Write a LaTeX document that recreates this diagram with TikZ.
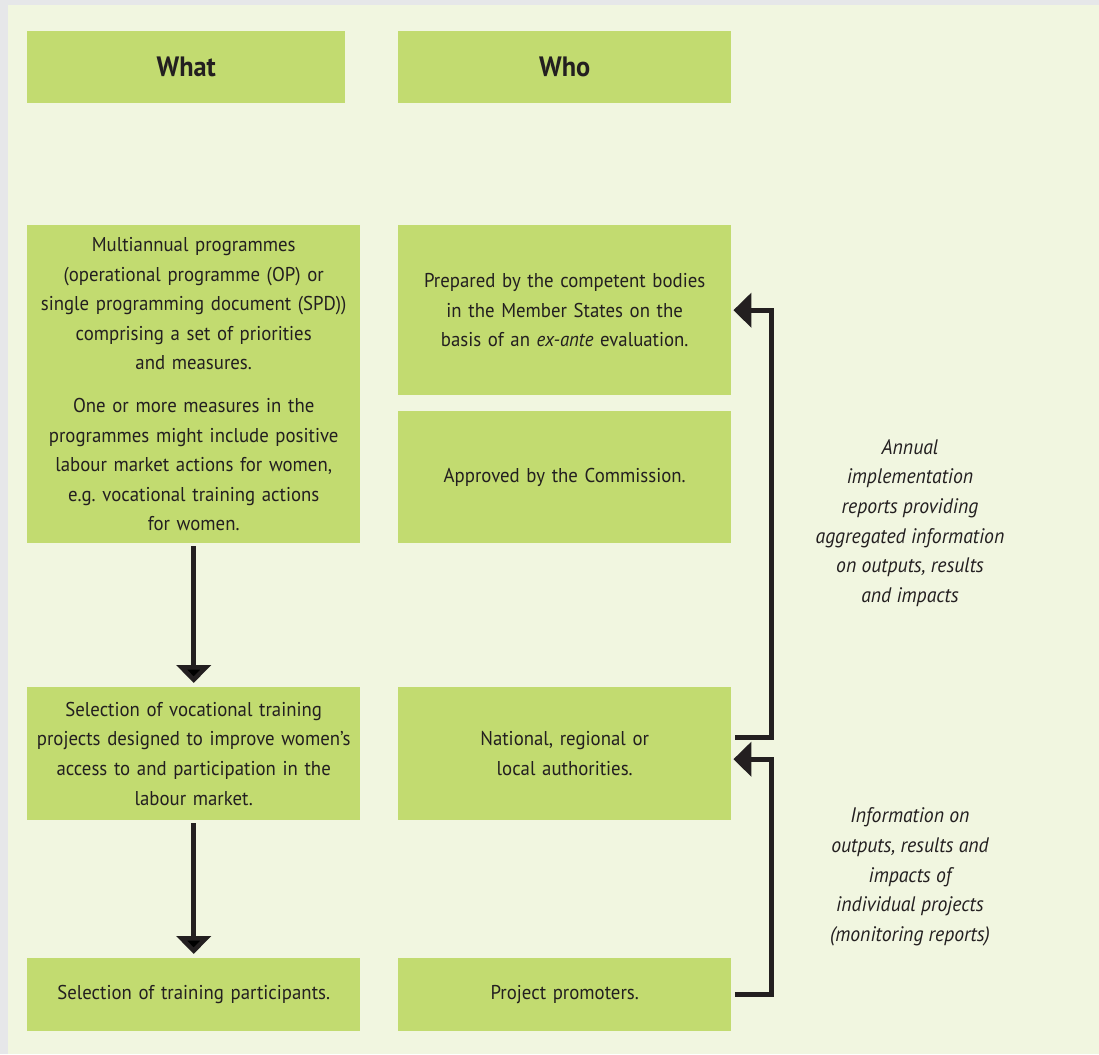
\documentclass[tikz,border=0pt]{standalone}
\usepackage{fontspec}
\setmainfont{PT Sans}[FakeStretch=0.94]
\usepackage{tikz}
\usetikzlibrary{arrows.meta,positioning}
\definecolor{panel}{HTML}{F1F6E0}
\definecolor{frame}{HTML}{E6E7E9}
\definecolor{leaf}{HTML}{C2DB70}
\definecolor{ink}{HTML}{231F20}

\begin{document}
\begin{tikzpicture}[x=1pt,y=-1pt,
  box/.style={fill=leaf,anchor=north west,minimum width=333pt,inner sep=0pt,
    text width=325pt,align=center,font=\fontsize{20}{29.6}\selectfont,text=ink},
  head/.style={box,minimum height=72pt,font=\bfseries\fontsize{28}{30}\selectfont},
  flow/.style={draw=ink,line width=5pt,-{Triangle[length=18pt,width=34pt]}},
  note/.style={align=center,text=ink,font=\itshape\fontsize{21}{29.6}\selectfont}]
  \fill[frame] (0,0) rectangle (1099,1054);
  \fill[panel] (8,5) rectangle (1099,1054);
  \node[head,minimum width=318pt,text width=310pt] (what) at (27,31) {What};
  \node[head] (who) at (398,31) {Who};
  \node[box,minimum height=318pt] (progs) at (27,225)
    {Multiannual programmes\\ (operational programme (OP) or\\ single programming document (SPD))\\
     comprising a set of priorities\\ and measures.\\[13pt]
     One or more measures in the\\ programmes might include positive\\ labour market actions for women,\\
     e.g.\ vocational training actions\\ for women.};
  \node[box,minimum height=170pt] (prepared) at (398,225)
    {Prepared by the competent bodies\\ in the Member States on the\\ basis of an \emph{ex-ante} evaluation.};
  \node[box,minimum height=132pt] (approved) at (398,411) {Approved by the Commission.};
  \node[box,minimum height=133pt] (select) at (27,687)
    {Selection of vocational training\\ projects designed to improve women’s\\ access to and participation in the\\ labour market.};
  \node[box,minimum height=133pt] (authorities) at (398,687) {National, regional or\\ local authorities.};
  \node[box,minimum height=73pt] (participants) at (27,958) {Selection of training participants.};
  \node[box,minimum height=73pt] (promoters) at (398,958) {Project promoters.};
  \node[note] (annual) at (910,523)
    {Annual\\ implementation\\ reports providing\\ aggregated information\\ on outputs, results\\ and impacts};
  \node[note] (monitor) at (910,877)
    {Information on\\ outputs, results and\\ impacts of\\ individual projects\\ (monitoring reports)};
  \path[flow,shorten <=3pt,shorten >=4pt]
  (progs) edge (select)
  (select) edge (participants)
  ;
  \draw[flow,shorten <=4pt,shorten >=2pt]
    ([yshift=16.5pt]authorities.east) -- ++(40,0) |- (prepared.east);
  \draw[flow,shorten <=4pt,shorten >=2pt]
    (promoters.east) -- ++(40,0) |- ([yshift=-5.5pt]authorities.east);
\end{tikzpicture}
\end{document}
